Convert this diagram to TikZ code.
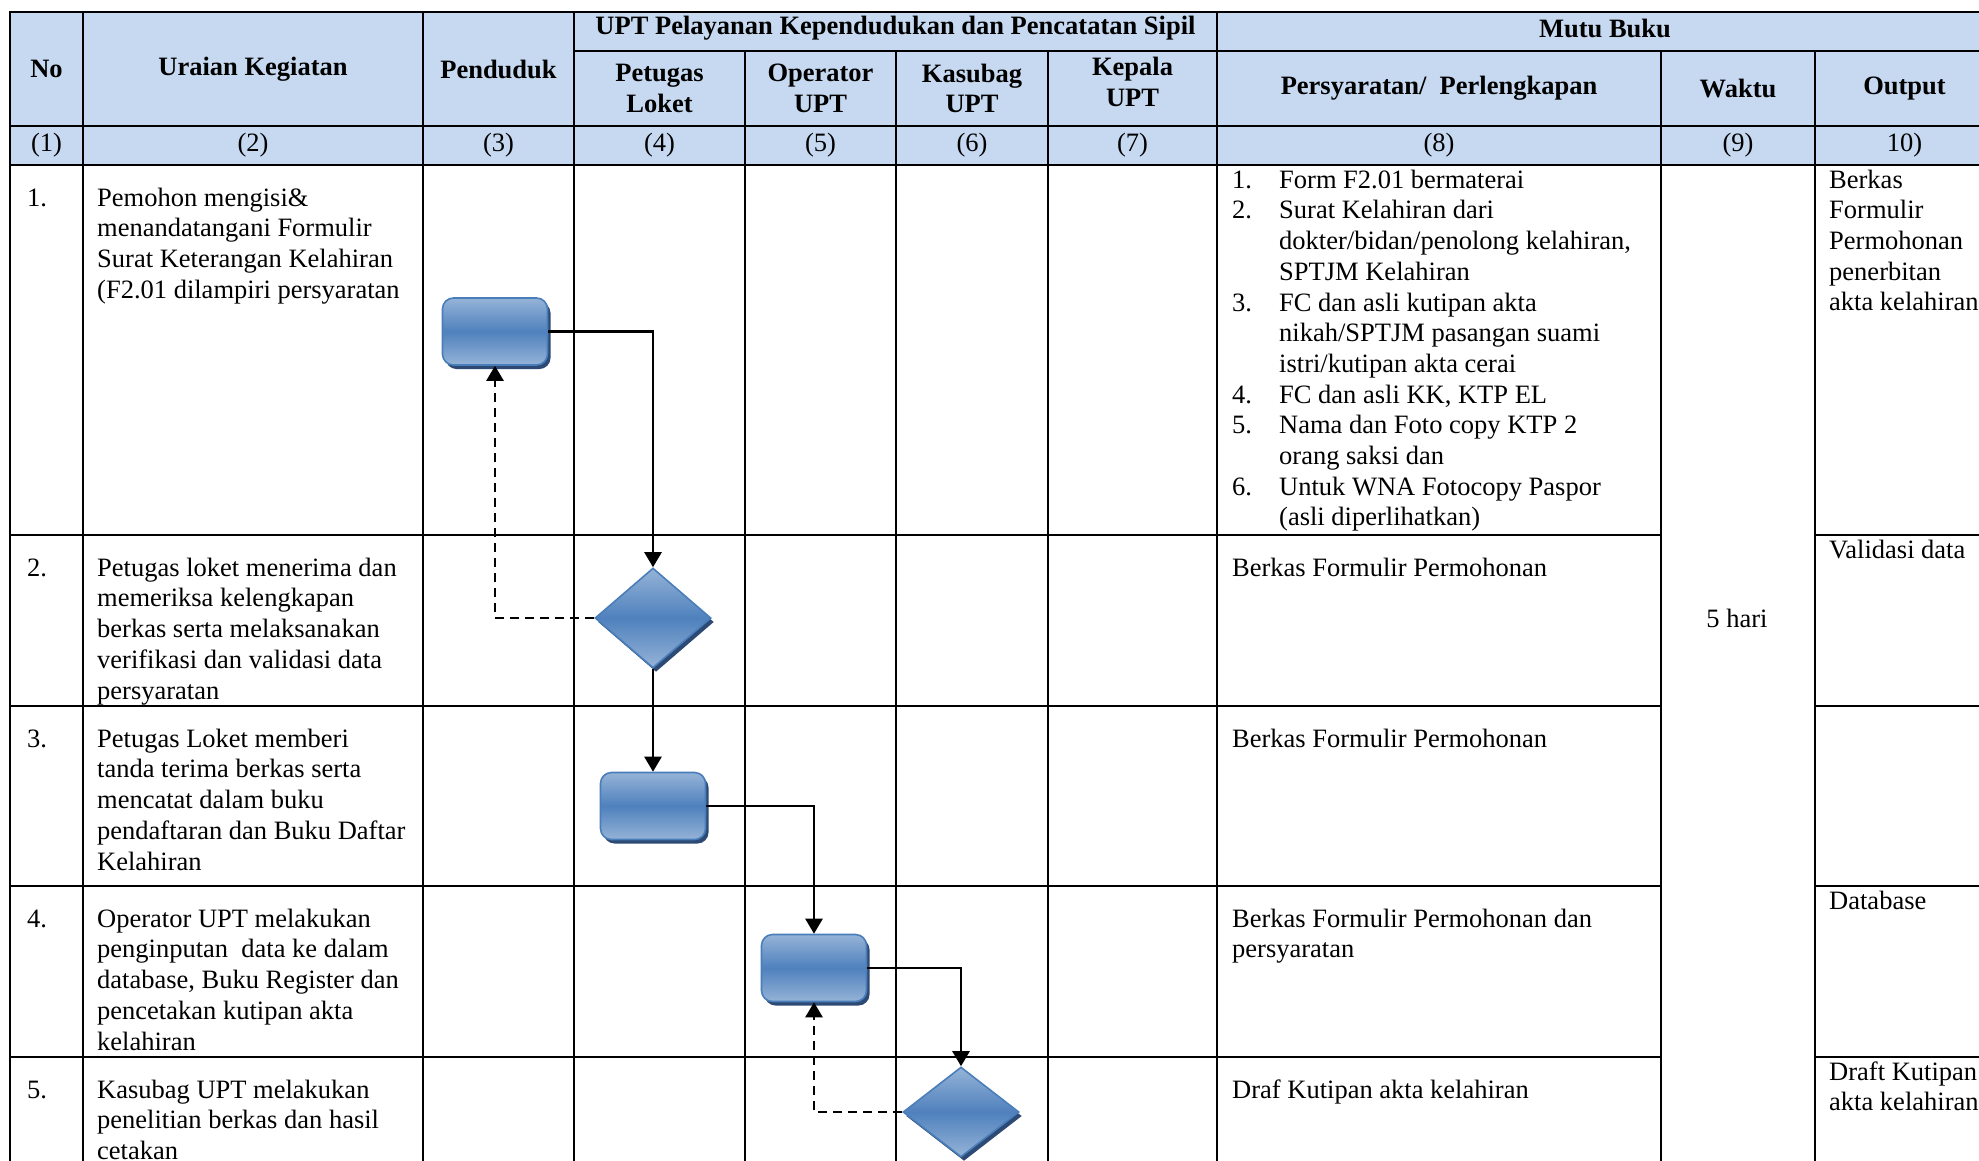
\documentclass[tikz,border=0pt]{standalone}
\usepackage{fontspec}
\setmainfont{Liberation Serif}
\usetikzlibrary{arrows.meta,shapes.geometric,shadows}

\definecolor{hdrblue}{HTML}{C6D9F1}
\definecolor{boxlight}{HTML}{95B3D7}
\definecolor{boxmid}{HTML}{4F81BD}
\definecolor{boxedge}{HTML}{4A7EBB}
\definecolor{boxshade}{HTML}{2C4A74}

\newcommand\cellfont{\fontsize{26.5}{30.7}\selectfont}

\tikzset{
  gridline/.style={line width=2.4pt, black, line cap=rect},
  hdr/.style={inner sep=0pt, font=\cellfont\bfseries, align=center},
  numcell/.style={inner sep=0pt, font=\cellfont},
  cell/.style={anchor=north west, inner sep=0pt, align=left, font=\cellfont},
  blueshade/.style={top color=boxlight, bottom color=boxlight, middle color=boxmid,
    draw=boxedge, line width=1.6pt,
    drop shadow={shadow xshift=3pt, shadow yshift=-4pt, fill=boxshade, opacity=1}},
  procbox/.style={blueshade, rectangle, rounded corners=11pt, inner sep=0pt,
    minimum width=105pt, minimum height=67pt},
  decision/.style={blueshade, diamond, inner sep=0pt, minimum width=116pt},
  flow/.style={line width=2.6pt, -{Triangle[width=17pt,length=15pt]}},
  flowback/.style={line width=2.6pt, dash pattern=on 9pt off 6pt,
    -{Triangle[width=17pt,length=15pt]}}
}

\begin{document}
\begin{tikzpicture}[x=1pt,y=-1pt]
\useasboundingbox (0,0) rectangle (1979,1160);
\fill[white] (0,0) rectangle (1979,1160);

% ---- table grid ----
\begin{scope}
\clip (0,0) rectangle (1979,1160);
\fill[hdrblue] (10,12) rectangle (1994,165);
% horizontal rules
\draw[gridline] (10,12) -- (1994,12);
\draw[gridline] (574,51) -- (1994,51);
\draw[gridline] (10,126) -- (1994,126);
\draw[gridline] (10,165) -- (1994,165);
\foreach \yy in {535,706,886,1057}{
  \draw[gridline] (10,\yy) -- (1661,\yy);
  \draw[gridline] (1815,\yy) -- (1994,\yy);
}
% vertical rules
\foreach \xx in {10,83,423,574,1217,1994}{
  \draw[gridline] (\xx,12) -- (\xx,1200);
}
\foreach \xx in {745,896,1048,1661,1815}{
  \draw[gridline] (\xx,51) -- (\xx,1200);
}
\end{scope}

% ---- header ----
\node[hdr] (hNo) at (46.5,69) {No};
\node[hdr] (hUraian) at (253,69) {Uraian Kegiatan};
\node[hdr] (hPend) at (498.5,69) {Penduduk};
\node[hdr] (hUPT) at (895.5,28) {UPT Pelayanan Kependudukan dan Pencatatan Sipil};
\node[hdr] (hMutu) at (1605,28) {Mutu Buku};
\node[hdr] (hLoket) at (659.5,88.5) {Petugas\\Loket};
\node[hdr] (hOper) at (820.5,88.5) {Operator\\UPT};
\node[hdr] (hKasu) at (972,88.5) {Kasubag\\UPT};
\node[hdr] (hKepala) at (1132.5,82) {Kepala\\UPT};
\node[hdr] (hSyarat) at (1439,88.5) {Persyaratan/\ \ Perlengkapan};
\node[hdr] (hWaktu) at (1738,88.5) {Waktu};
\node[hdr] (hOutput) at (1904.5,88.5) {Output};

% column numbers
\node[numcell] (n1) at (46.5,145.5) {(1)};
\node[numcell] (n2) at (253,145.5) {(2)};
\node[numcell] (n3) at (498.5,145.5) {(3)};
\node[numcell] (n4) at (659.5,145.5) {(4)};
\node[numcell] (n5) at (820.5,145.5) {(5)};
\node[numcell] (n6) at (972,145.5) {(6)};
\node[numcell] (n7) at (1132.5,145.5) {(7)};
\node[numcell] (n8) at (1439,145.5) {(8)};
\node[numcell] (n9) at (1738,145.5) {(9)};
\node[numcell] (n10) at (1904.5,145.5) {10)};

% ---- row numbers and activities ----
\node[cell] (no1) at (27,184.5) {\strut 1.};
\node[cell] (no2) at (27,554.5) {\strut 2.};
\node[cell] (no3) at (27,725.5) {\strut 3.};
\node[cell] (no4) at (27,905.5) {\strut 4.};
\node[cell] (no5) at (27,1076.5) {\strut 5.};

\node[cell] (act1) at (97,184.5) {\strut Pemohon mengisi\&\\menandatangani Formulir\\Surat Keterangan Kelahiran\\(F2.01 dilampiri persyaratan};
\node[cell] (act2) at (97,554.5) {\strut Petugas loket menerima dan\\memeriksa kelengkapan\\berkas serta melaksanakan\\verifikasi dan validasi data\\persyaratan};
\node[cell] (act3) at (97,725.5) {\strut Petugas Loket memberi\\tanda terima berkas serta\\mencatat dalam buku\\pendaftaran dan Buku Daftar\\Kelahiran};
\node[cell] (act4) at (97,905.5) {\strut Operator UPT melakukan\\penginputan\ \ data ke dalam\\database, Buku Register dan\\pencetakan kutipan akta\\kelahiran};
\node[cell] (act5) at (97,1076.5) {\strut Kasubag UPT melakukan\\penelitian berkas dan hasil\\cetakan};

% ---- requirements ----
\node[cell] (req1) at (1232,166.5) {\strut\makebox[47pt][l]{1.}Form F2.01 bermaterai\\
\makebox[47pt][l]{2.}Surat Kelahiran dari\\
\hspace*{47pt}dokter/bidan/penolong kelahiran,\\
\hspace*{47pt}SPTJM Kelahiran\\
\makebox[47pt][l]{3.}FC dan asli kutipan akta\\
\hspace*{47pt}nikah/SPTJM pasangan suami\\
\hspace*{47pt}istri/kutipan akta cerai\\
\makebox[47pt][l]{4.}FC dan asli KK, KTP EL\\
\makebox[47pt][l]{5.}Nama dan Foto copy KTP 2\\
\hspace*{47pt}orang saksi dan\\
\makebox[47pt][l]{6.}Untuk WNA Fotocopy Paspor\\
\hspace*{47pt}(asli diperlihatkan)};
\node[cell] (req2) at (1232,554.5) {\strut Berkas Formulir Permohonan};
\node[cell] (req3) at (1232,725.5) {\strut Berkas Formulir Permohonan};
\node[cell] (req4) at (1232,905.5) {\strut Berkas Formulir Permohonan dan\\persyaratan};
\node[cell] (req5) at (1232,1076.5) {\strut Draf Kutipan akta kelahiran};

% ---- time ----
\node[numcell] (waktu) at (1737,618) {5 hari};

% ---- outputs ----
\node[cell] (out1) at (1829,166.5) {\strut Berkas\\Formulir\\Permohonan\\penerbitan\\akta kelahiran};
\node[cell] (out2) at (1829,537) {\strut Validasi data};
\node[cell] (out4) at (1829,887.5) {\strut Database};
\node[cell] (out5) at (1829,1058.5) {\strut Draft Kutipan\\akta kelahiran};

% ---- flow shapes ----
\node[procbox] (b1) at (495,331.5) {};
\node[decision, minimum height=100pt] (d1) at (653,618) {};
\node[procbox] (b2) at (653,806) {};
\node[procbox] (b3) at (814,968) {};
\node[decision, minimum height=90pt] (d2) at (961,1112) {};

% ---- connectors ----
\draw[flow] (b1.east) -| (d1.north);
\draw[flow] (d1.south) -- (b2.north);
\draw[flow] (b2.east) -| (b3.north);
\draw[flow] (b3.east) -| (d2.north);
\draw[flowback] (d1.west) -| (b1.south);
\draw[flowback] (d2.west) -| (b3.south);
\end{tikzpicture}
\end{document}
